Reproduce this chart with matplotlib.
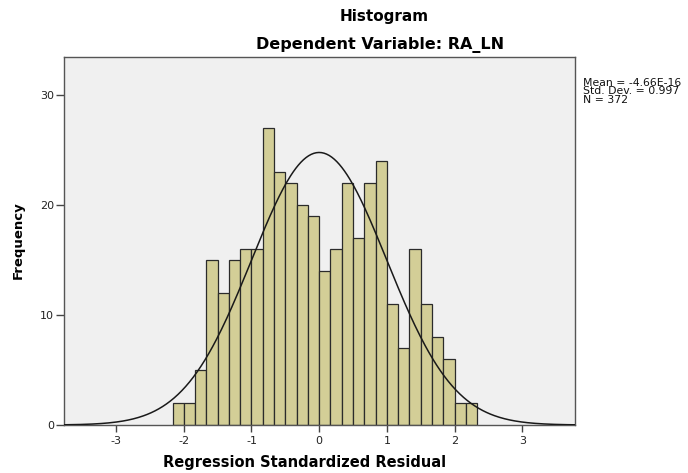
import numpy as np
import matplotlib
matplotlib.use("Agg")
import matplotlib.pyplot as plt

# Data
bin_edges_sixths = np.arange(-13, 15)  # edges in units of 1/6
counts = [2, 2, 5, 15, 12, 15, 16, 16, 27, 23, 22, 20, 19, 14,
          16, 22, 17, 22, 24, 11, 7, 16, 11, 8, 6, 2, 2]
mean_val = -4.66e-16
std_val = 0.997
n_val = 372
x_ticks = [-3, -2, -1, 0, 1, 2, 3]
y_ticks = [0, 10, 20, 30]

plt.rcParams['font.family'] = ['DejaVu Sans']

W, H = 688, 473
fig = plt.figure(figsize=(W / 100, H / 100), dpi=100)
fig.patch.set_facecolor('white')

left, right, top, bottom = 64, 575, 57, 425
ax = fig.add_axes([left / W, 1 - bottom / H, (right - left) / W, (bottom - top) / H])
ax.set_facecolor('#F0F0F0')

edges = bin_edges_sixths / 6.0
width = edges[1] - edges[0]
ax.bar(edges[:-1], counts, width=width, align='edge', color='#D3CE97',
       edgecolor='#2b2b2b', linewidth=0.9, zorder=2)

xs = np.linspace(-3.77, 3.78, 400)
pdf = n_val * width * np.exp(-0.5 * ((xs - mean_val) / std_val) ** 2) / (std_val * np.sqrt(2 * np.pi))
ax.plot(xs, pdf, color='#1a1a1a', linewidth=1.1, zorder=3)

ax.set_xlim(-3.77, 3.78)
ax.set_ylim(0, 33.5)
ax.set_xticks(x_ticks)
ax.set_yticks(y_ticks)
ax.set_xticklabels([str(t) for t in x_ticks])
ax.set_yticklabels([str(t) for t in y_ticks])
for s in ax.spines.values():
    s.set_color('#555555')
    s.set_linewidth(1.0)
ax.tick_params(axis='both', colors='#444444', labelcolor='#222222', labelsize=8,
               length=6, width=1.0, direction='out', pad=1)
ax.tick_params(axis='x', length=5, pad=3)

fig.text(305 / W, 1 - 462 / H, 'Regression Standardized Residual', ha='center', va='center',
         fontsize=10.5, fontweight='bold')
fig.text(18 / W, 1 - 240 / H, 'Frequency', ha='center', va='center', rotation=90,
         fontsize=9.5, fontweight='bold')

fig.text(384 / W, 1 - 16 / H, 'Histogram', ha='center', va='center', fontsize=11, fontweight='bold')
fig.text(380 / W, 1 - 45 / H, 'Dependent Variable: RA_LN', ha='center', va='center', fontsize=11.5, fontweight='bold')

fig.text(583 / W, 1 - 78 / H,
         'Mean = -4.66E-16\nStd. Dev. = 0.997\nN = 372',
         ha='left', va='top', fontsize=7.8, linespacing=0.8, color='#111111')

fig.savefig('out.png', dpi=100)
